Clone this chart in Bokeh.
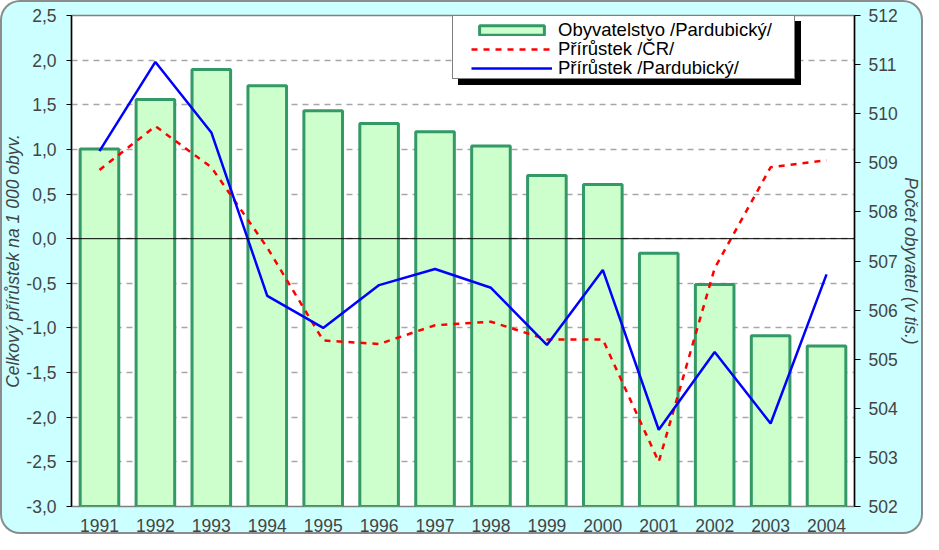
from bokeh.plotting import figure
from bokeh.models import (Range1d, LinearAxis, FixedTicker, CustomJSTickFormatter,
                          Span, Legend, LegendItem)
from bokeh.embed import file_html
from bokeh.resources import INLINE

years = ["1991", "1992", "1993", "1994", "1995", "1996", "1997",
         "1998", "1999", "2000", "2001", "2002", "2003", "2004"]
obyvatelstvo = [509.28, 510.29, 510.90, 510.57, 510.06, 509.80, 509.63,
                509.34, 508.74, 508.56, 507.16, 506.52, 505.48, 505.27]
prirustek_cr = [0.77, 1.26, 0.80, -0.10, -1.14, -1.18, -0.97,
                -0.93, -1.13, -1.13, -2.50, -0.33, 0.80, 0.88]
prirustek_pard = [0.98, 1.98, 1.19, -0.64, -1.00, -0.52, -0.34,
                  -0.55, -1.19, -0.35, -2.14, -1.27, -2.07, -0.40]
left_ticks = [-3.0, -2.5, -2.0, -1.5, -1.0, -0.5, 0.0, 0.5, 1.0, 1.5, 2.0, 2.5]
right_ticks = [502, 503, 504, 505, 506, 507, 508, 509, 510, 511, 512]
legend_labels = ["Obyvatelstvo /Pardubický/", "Přírůstek /ČR/", "Přírůstek /Pardubický/"]
left_title = "Celkový přírůstek na 1 000 obyv."
right_title = "Počet obyvatel (v tis.)"

FONT = "Liberation Sans"

p = figure(width=923, height=534, x_range=years, y_range=Range1d(-3.0, 2.5),
           output_backend="svg", toolbar_location=None,
           min_border_left=70, min_border_right=64, min_border_top=15,
           min_border_bottom=25)
p.x_range.range_padding = 0
p.extra_y_ranges = {"pop": Range1d(502, 512)}

p.border_fill_color = None
p.background_fill_color = "white"
p.outline_line_color = "#808080"
p.outline_line_width = 1.5
p.styles = {"background-color": "#ccffff", "border-radius": "20px",
            "box-shadow": "inset 0 0 0 2px #8c8c8c"}

# grid
p.xgrid.grid_line_color = None
p.ygrid.ticker = FixedTicker(ticks=left_ticks)
p.ygrid.grid_line_color = "#a6a6a6"
p.ygrid.grid_line_width = 1.5
p.ygrid.grid_line_dash = "6 5"

# left axis
ya = p.yaxis[0]
ya.ticker = FixedTicker(ticks=left_ticks)
ya.formatter = CustomJSTickFormatter(code="return tick.toFixed(1).replace('.', ',');")
ya.axis_label = left_title
ya.axis_label_text_font = FONT
ya.axis_label_text_font_style = "italic"
ya.axis_label_text_font_size = "17.5px"
ya.axis_label_standoff = 0
ya.major_label_text_font = FONT
ya.major_label_text_font_size = "17.5px"
ya.major_label_standoff = 10
ya.major_tick_out = 5
ya.major_tick_in = 0
ya.minor_tick_line_color = None
ya.axis_line_color = "black"
ya.axis_line_width = 1.5

# right axis
ra = LinearAxis(y_range_name="pop", ticker=FixedTicker(ticks=right_ticks))
ra.axis_label = right_title
ra.axis_label_text_font = FONT
ra.axis_label_text_font_style = "italic"
ra.axis_label_text_font_size = "17.5px"
ra.axis_label_standoff = 0
ra.major_label_text_font = FONT
ra.major_label_text_font_size = "17.5px"
ra.major_label_standoff = 8
ra.major_tick_out = 6
ra.major_tick_in = 0
ra.minor_tick_line_color = None
ra.axis_line_color = "black"
ra.axis_line_width = 1.5
p.add_layout(ra, "right")

# x axis
xa = p.xaxis[0]
xa.axis_line_color = None
xa.major_tick_line_color = None
xa.major_label_text_font = FONT
xa.major_label_text_font_size = "17.5px"
xa.major_label_standoff = 6

bars = p.vbar(x=years, top=obyvatelstvo, bottom=502, width=0.69,
              y_range_name="pop", fill_color="#ccffcc", line_color="#339966",
              line_width=3)
red = p.line(years, prirustek_cr, line_color="#ff0000", line_width=2.5,
             line_dash="6 6")
blue = p.line(years, prirustek_pard, line_color="#0000ff", line_width=2.5)
dummy = p.scatter(x=[], y=[], size=0, fill_alpha=0, line_alpha=0)

p.add_layout(Span(location=0, dimension="width", line_color="black", line_width=1))

# legend frame (shadow + white box)
box = dict(padding=0, spacing=0, glyph_width=1, glyph_height=1, label_standoff=0,
           label_width=340, label_height=62, border_line_color="black",
           border_line_width=1, margin=0, background_fill_alpha=1,
           label_text_font_size="10px")
p.add_layout(Legend(items=[LegendItem(label=" ", renderers=[dummy])],
                    location=(387, 421), background_fill_color="black", **box), "center")
p.add_layout(Legend(items=[LegendItem(label=" ", renderers=[dummy])],
                    location=(381, 427), background_fill_color="white", **box), "center")

# legend entries, one row each
row_y = [465, 446, 427]
for lab, r, yy in zip(legend_labels, [bars, red, blue], row_y):
    p.add_layout(Legend(items=[LegendItem(label=lab, renderers=[r])],
                        location=(400, yy), padding=0, spacing=0, glyph_width=81,
                        glyph_height=12, label_standoff=6, margin=0,
                        label_text_font=FONT, label_text_font_size="18.5px",
                        label_text_color="black", background_fill_alpha=0,
                        border_line_color=None), "center")

open("out.html", "w").write(file_html(p, INLINE))
